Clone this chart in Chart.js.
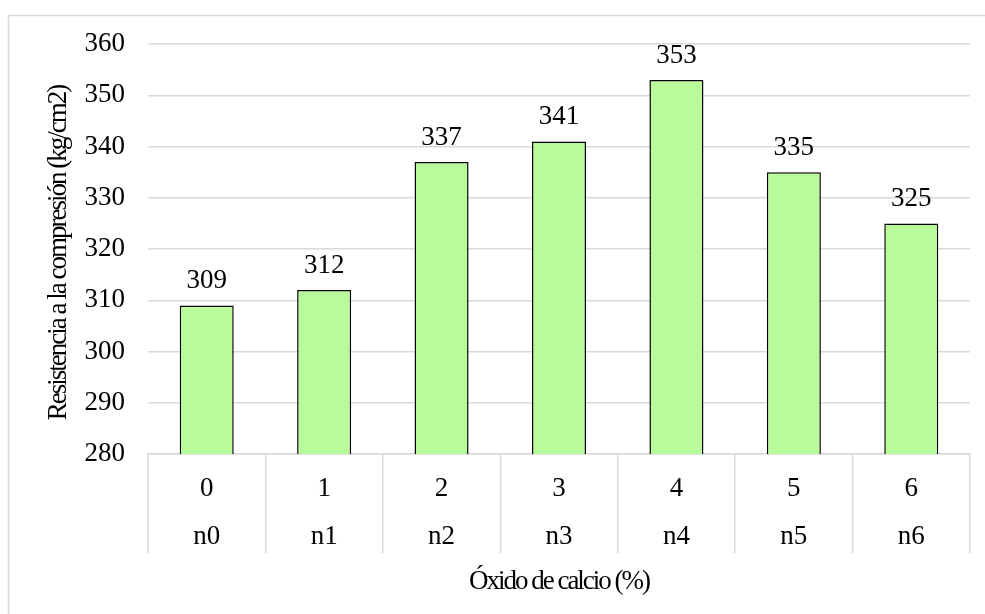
<!DOCTYPE html>
<html lang="es">
<head>
<meta charset="utf-8">
<title>Resistencia a la compresión</title>
<script src="https://cdn.jsdelivr.net/npm/chart.js@4/dist/chart.umd.min.js"></script>
<style>
    html, body { margin: 0; padding: 0; background: #fff; }
    #wrap { width: 985px; height: 614px; position: relative; }
</style>
</head>
<body>
<div id="wrap"><canvas id="resistChart" width="985" height="614"></canvas></div>
<script>
const porcentajes = ['0', '1', '2', '3', '4', '5', '6'];
const muestras = ['n0', 'n1', 'n2', 'n3', 'n4', 'n5', 'n6'];
const resistencia = [309, 312, 337, 341, 353, 335, 325];
const yMin = 280;
const yMax = 360;
const yPaso = 10;
const tituloX = 'Óxido de calcio (%)';
const tituloY = 'Resistencia a la compresión (kg/cm2)';

const FUENTE = "'Liberation Serif', 'Times New Roman', serif";
const GRIS = '#d9d9d9';

// marco exterior del grafico
const marco = {
    id: 'marco',
    beforeDraw(chart) {
        const c = chart.ctx;
        c.save();
        c.strokeStyle = GRIS;
        c.lineWidth = 1.5;
        c.strokeRect(8.5, 15.5, 1200, 800);
        c.restore();
    }
};

// etiquetas de valor encima de cada barra + titulos de ejes (texto algo condensado)
const etiquetas = {
    id: 'etiquetas',
    afterDraw(chart) {
        const c = chart.ctx;
        const area = chart.chartArea;
        const meta = chart.getDatasetMeta(0);
        c.save();
        c.font = '27px ' + FUENTE;
        c.fillStyle = '#000';
        c.textAlign = 'center';
        c.textBaseline = 'alphabetic';
        meta.data.forEach((bar, i) => {
            c.fillText(String(resistencia[i]), bar.x, bar.y - 17);
        });

        c.letterSpacing = '-2px';
        c.textBaseline = 'middle';
        c.fillText(tituloX, (area.left + area.right) / 2, 582);

        c.translate(59, (area.top + area.bottom) / 2 + 4);
        c.rotate(-Math.PI / 2);
        c.fillText(tituloY, 0, 0);
        c.restore();
    }
};

document.addEventListener("DOMContentLoaded", function () {
    const ctx = document.getElementById('resistChart');
    new Chart(ctx, {
        type: 'bar',
        data: {
            labels: porcentajes.map((p, i) => [p, muestras[i]]),
            datasets: [{
                data: resistencia,
                backgroundColor: '#b9fb9b',
                borderColor: '#000',
                borderWidth: 1.5,
                categoryPercentage: 1,
                barPercentage: 0.46
            }]
        },
        options: {
            responsive: false,
            animation: false,
            layout: { padding: { left: 0, top: 44, right: 15, bottom: 0 } },
            plugins: {
                legend: { display: false },
                tooltip: { enabled: false }
            },
            scales: {
                x: {
                    afterFit: (s) => { s.height = 160; },
                    grid: {
                        offset: true,
                        drawOnChartArea: false,
                        drawTicks: true,
                        tickLength: 99,
                        color: GRIS,
                        lineWidth: 1.5
                    },
                    border: { display: true, color: GRIS, width: 1.5 },
                    ticks: {
                        padding: -88,
                        color: '#000',
                        font: { family: FUENTE, size: 27, lineHeight: 1.78 },
                        maxRotation: 0
                    }
                },
                y: {
                    min: yMin,
                    max: yMax,
                    afterFit: (s) => { s.width = 148; },
                    grid: { color: GRIS, lineWidth: 1.5, drawTicks: false },
                    border: { display: false },
                    ticks: {
                        stepSize: yPaso,
                        padding: 23,
                        color: '#000',
                        font: { family: FUENTE, size: 27 }
                    }
                }
            }
        },
        plugins: [marco, etiquetas]
    });
});
</script>
</body>
</html>
